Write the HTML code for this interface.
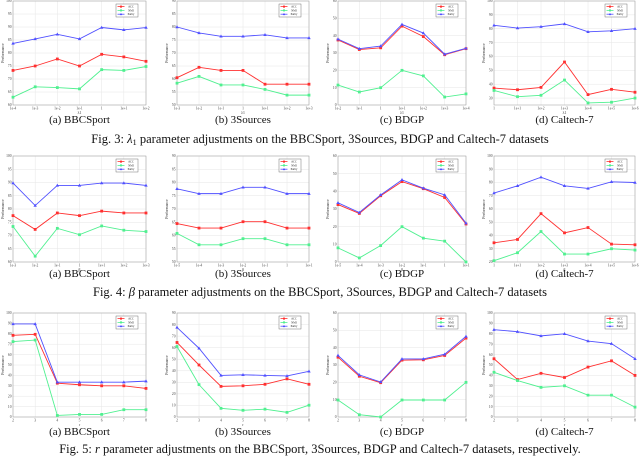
<!DOCTYPE html>
<html><head><meta charset="utf-8"><style>
html,body{margin:0;padding:0;background:#fff;width:640px;height:456px;overflow:hidden}
svg{display:block}
svg text{font-family:"Liberation Serif","Times New Roman",serif}
</style></head><body>
<svg id="fig" width="640" height="456" xmlns="http://www.w3.org/2000/svg"></svg>
<script>
// ---- data ----
const xLambda_a = ["1e-4","1e-3","1e-2","1e-1","1","1e+1","1e+2"];
const xLambda_b = ["1e-3","1e-2","1e-1","1","1e+1","1e+2","1e+3"];
const xLambda_c = ["1e-2","1e-1","1","1e+1","1e+2","1e+3","1e+4"];
const xLambda_d = ["1","1e+1","1e+2","1e+3","1e+4","1e+5","1e+6"];
const xBeta_a = ["1e-3","1e-2","1e-1","1","1e+1","1e+2","1e+3"];
const xBeta_b = ["1e-5","1e-4","1e-3","1e-2","1e-1","1","1e+1"];
const xBeta_c = ["1e-5","1e-4","1e-3","1e-2","1e-1","1","1e+1"];
const xBeta_d = ["1","1e+1","1e+2","1e+3","1e+4","1e+5","1e+6"];
const xR = ["2","3","4","5","6","7","8"];

const acc1a=[73.3,75,77.7,75,79.5,78.5,76.8], nmi1a=[63,67,66.7,66.2,73.6,73.3,74.8], pur1a=[83.7,85.4,87.2,85.4,89.8,88.9,89.8];
const acc1b=[60.5,64.5,63.3,63.3,58,58,58], nmi1b=[58.4,61,57.7,57.7,56,53.8,53.8], pur1b=[80,77.7,76.4,76.4,77,75.8,75.8];
const acc1c=[37.5,32,33,45.5,39.5,29,32.5], nmi1c=[11.5,7.5,10,20,16.8,4.6,6.4], pur1c=[38,32.5,34,46.5,41.5,29.3,32.7];
const acc1d=[37.2,36,37.7,56,32.5,36.3,34.2], nmi1d=[35.5,31,32,43,26.5,27,30], pur1d=[82.5,80.5,81.5,83.5,77.8,78.5,80];

const acc2a=[77.5,72.3,78.5,77.5,79.2,78.5,78.5], nmi2a=[73.4,62.2,72.7,70.3,73.6,72,71.5], pur2a=[89.8,81.3,88.9,88.9,89.8,89.8,88.9];
const acc2b=[64.5,62.8,62.8,65.2,65.2,62.8,62.8], nmi2b=[60.8,56.5,56.5,58.8,58.8,56.5,56.5], pur2b=[77.6,75.8,75.8,78.2,78.2,75.8,75.8];
const acc2c=[32.5,27.5,37.5,45.5,41.5,36.5,21.5], nmi2c=[8,2.3,9.3,20,13.5,11.8,0], pur2c=[33.5,28,38,46.5,41.8,38,22];
const acc2d=[34.5,37,56.5,42,46,33.5,33], nmi2d=[21,27,43,26,26,30,29], pur2d=[72,77.5,84,77.5,75.5,80.5,80];

const acc3a=[78.5,79.5,32.5,31,30,30,27.5], nmi3a=[72.5,74,1.5,2.5,2.5,7,7], pur3a=[89.5,89.5,33.5,33.5,33.5,33.5,34.5];
const acc3b=[64.5,45,26.5,27,28.3,33,28.3], nmi3b=[61,28,7.5,5.8,6.8,4,10.2], pur3b=[77.5,59.5,36,36.5,36,35.5,39.5];
const acc3c=[34.5,23.5,19.8,32.8,33,35.5,45.5], nmi3c=[9.8,1.3,0,9.8,9.8,9.8,20], pur3c=[35.5,24.3,20.2,33.5,33.5,36.2,46.5];
const acc3d=[56,36,42,38,48,54,40], nmi3d=[43,35,28.5,30,21,21,9.5], pur3d=[84,82,78,80,73,70.5,56];

const captions=["(a) BBCSport","(b) 3Sources","(c) BDGP","(d) Caltech-7"];

const NS="http://www.w3.org/2000/svg";
const svg=document.getElementById('fig');
function el(tag,attrs,parent){const e=document.createElementNS(NS,tag);for(const k in attrs)e.setAttribute(k,attrs[k]);(parent||svg).appendChild(e);return e;}

const cols=[[13,146],[177,309],[338,466],[494,635]];
const rows=[{t:1,b:105,xl:"λ1",cap:123},{t:156,b:262,xl:"β",cap:277},{t:313,b:417,xl:"r",cap:435}];
const panels=[
 [[xLambda_a,acc1a,nmi1a,pur1a,60,100,5],[xLambda_b,acc1b,nmi1b,pur1b,50,90,5],[xLambda_c,acc1c,nmi1c,pur1c,0,60,10],[xLambda_d,acc1d,nmi1d,pur1d,25,100,10]],
 [[xBeta_a,acc2a,nmi2a,pur2a,60,100,5],[xBeta_b,acc2b,nmi2b,pur2b,50,90,5],[xBeta_c,acc2c,nmi2c,pur2c,0,60,10],[xBeta_d,acc2d,nmi2d,pur2d,20,100,10]],
 [[xR,acc3a,nmi3a,pur3a,0,100,10],[xR,acc3b,nmi3b,pur3b,0,90,10],[xR,acc3c,nmi3c,pur3c,0,60,10],[xR,acc3d,nmi3d,pur3d,0,100,10]]
];
const seriesStyle=[["ACC","#ff3030","sq"],["NMI","#50f090","sq"],["Purity","#5050ff","tri"]];

rows.forEach((r,ri)=>{
 cols.forEach((c,ci)=>{
  const [xs,acc,nmi,pur,ymin,ymax,step]=panels[ri][ci];
  const g=el('g',{});
  
  
  const L=c[0],R=c[1],T=r.t,B=r.b;
  const xS=i=>L+(R-L)*i/(xs.length-1);
  const yS=v=>B-(B-T)*(v-ymin)/(ymax-ymin);
  const firstTick=Math.ceil(ymin/step)*step;
  for(let v=firstTick;v<=ymax+1e-9;v+=step){
   const y=yS(v);
   const gl=el('line',{x1:L,x2:R,y1:y,y2:y,stroke:'#e6e6e6','stroke-width':0.5},g);
   
   
   const t=el('text',{x:L-1.5,y:y+1.2,'font-size':3.6,'text-anchor':'end',fill:'#444'},g);
   t.textContent=v;
   
   
  }
  xs.forEach((lab,i)=>{
   const x=xS(i);
   const gl=el('line',{x1:x,x2:x,y1:T,y2:B,stroke:'#e6e6e6','stroke-width':0.5},g);
   
   
   const t=el('text',{x:x,y:B+4.5,'font-size':3.6,'text-anchor':'middle',fill:'#444'},g);
   t.textContent=lab;
   
   
  });
  const box=el('rect',{x:L,y:T,width:R-L,height:B-T,fill:'none',stroke:'#999','stroke-width':0.5},g);
  
  
  const yl=el('text',{x:0,y:0,'font-size':3.8,'text-anchor':'middle',fill:'#333',transform:`translate(${L-9},${(T+B)/2}) rotate(-90)`},g);
  yl.textContent='Performance';
  
  
  const xl=el('text',{x:(L+R)/2,y:B+9,'font-size':3.8,'text-anchor':'middle',fill:'#333'},g);
  xl.textContent=r.xl;
  
  
  [acc,nmi,pur].forEach((vals,si)=>{
   const [nm,col,mk]=seriesStyle[si];
   const pts=vals.map((v,i)=>xS(i).toFixed(2)+','+yS(v).toFixed(2)).join(' ');
   const pl=el('polyline',{points:pts,fill:'none',stroke:col,'stroke-width':0.9},g);
   
   
   vals.forEach((v,i)=>{
    const x=xS(i),y=yS(v);
    let m;
    if(mk==='sq') m=el('rect',{x:x-1.4,y:y-1.4,width:2.8,height:2.8,fill:col},g);
    else m=el('polygon',{points:`${x},${y-1.8} ${x-1.7},${y+1.2} ${x+1.7},${y+1.2}`,fill:col},g);
    
    
   });
  });
  const lg=el('g',{},g);
  
  
  const lx=R-30,ly=T+3;
  el('rect',{x:lx,y:ly,width:22,height:13,fill:'#fff',stroke:'#555','stroke-width':0.4},lg);
  seriesStyle.forEach(([nm,col,mk],si)=>{
   const yy=ly+2.6+si*3.8;
   const le=el('line',{x1:lx+1.5,x2:lx+8.5,y1:yy,y2:yy,stroke:col,'stroke-width':0.8},lg);
   
   
   if(mk==='sq') el('rect',{x:lx+4,y:yy-1,width:2,height:2,fill:col},lg);
   else el('polygon',{points:`${lx+5},${yy-1.3} ${lx+3.8},${yy+0.9} ${lx+6.2},${yy+0.9}`,fill:col},lg);
   const t=el('text',{x:lx+15,y:yy+1,'font-size':2.8,'text-anchor':'middle',fill:'#222'},lg);
   t.textContent=nm;
  });
  const cp=el('text',{x:(L+R)/2,y:r.cap,'font-size':11,'text-anchor':'middle',fill:'#111'},g);
  cp.textContent=captions[ci];
  
  
 });
});
const figCaps=[
 [143,'Fig. 3: ','λ',"1",' parameter adjustments on the BBCSport, 3Sources, BDGP and Caltech-7 datasets'],
 [296,'Fig. 4: ','β',"",' parameter adjustments on the BBCSport, 3Sources, BDGP and Caltech-7 datasets'],
 [453,'Fig. 5: ','r',"",' parameter adjustments on the BBCSport, 3Sources, BDGP and Caltech-7 datasets, respectively.']
];
figCaps.forEach(([y,a,sym,sub,rest])=>{
 const t=el('text',{x:320,y:y,'font-size':12.5,'text-anchor':'middle',fill:'#111'});
 
 
 const s1=el('tspan',{},t);s1.textContent=a;
 const s2=el('tspan',{'font-style':'italic'},t);s2.textContent=sym;
 if(sub){const s3=el('tspan',{'font-size':8.5,dy:2},t);s3.textContent=sub;const s4=el('tspan',{dy:-2},t);s4.textContent=rest;}
 else{const s4=el('tspan',{},t);s4.textContent=rest;}
});
</script>
</body></html>
